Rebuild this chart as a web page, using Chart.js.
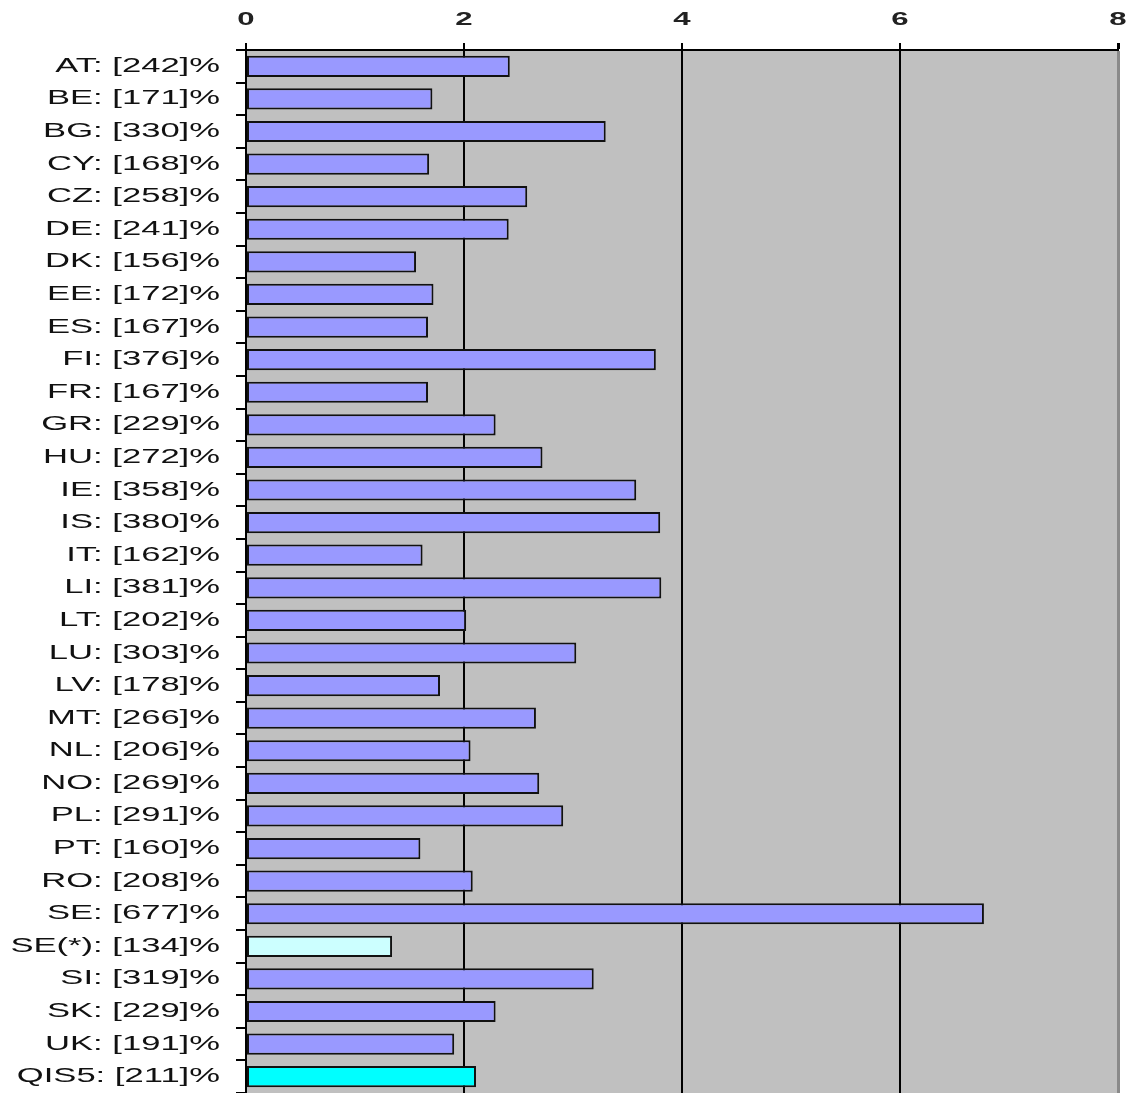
<!DOCTYPE html>
<html>
<head>
<meta charset="utf-8">
<script src="https://cdn.jsdelivr.net/npm/chart.js@4.4.1/dist/chart.umd.min.js"></script>
<style>
html,body{margin:0;padding:0;background:#fff;}
canvas{display:block;}
</style>
</head>
<body>
<canvas id="c" width="1129" height="1093"></canvas>
<script>
// ---- data ----
const countries = ["AT","BE","BG","CY","CZ","DE","DK","EE","ES","FI","FR","GR","HU","IE","IS","IT","LI","LT","LU","LV","MT","NL","NO","PL","PT","RO","SE","SE(*)","SI","SK","UK","QIS5"];
const percents  = [242,171,330,168,258,241,156,172,167,376,167,229,272,358,380,162,381,202,303,178,266,206,269,291,160,208,677,134,319,229,191,211];
const xTicks = [0,2,4,6,8];

const labels = countries.map((c,i)=> c + ": [" + percents[i] + "]%");
const values = percents.map(p => p/100);

// Reference text is horizontally stretched; draw text with the same stretch
const SX = 1.73;
const canvas = document.getElementById('c');
const ctx = canvas.getContext('2d');
const origFill = ctx.fillText.bind(ctx);
ctx.fillText = function(t, x, y, mw){
  this.save();
  this.translate(x, y);
  this.scale(SX, 1);
  if (mw === undefined || mw === null) origFill(t, 0, 0);
  else origFill(t, 0, 0, mw / SX);
  this.restore();
};

const plotBg = {
  id: 'plotBg',
  beforeDraw(chart){
    const a = chart.chartArea, c = chart.ctx;
    c.save();
    c.fillStyle = '#c0c0c0';
    c.fillRect(a.left, a.top, a.right - a.left, a.bottom - a.top);
    c.restore();
  }
};

function barColor(ctxv){
  const c = countries[ctxv.dataIndex];
  if (c === 'SE(*)') return '#ccffff';
  if (c === 'QIS5') return '#00ffff';
  return '#9999ff';
}

new Chart(canvas, {
  type: 'bar',
  data: {
    labels: labels,
    datasets: [{
      data: values,
      backgroundColor: barColor,
      borderColor: '#111',
      borderWidth: 2,
      borderSkipped: false,
      barPercentage: 0.65,
      categoryPercentage: 1.0
    }]
  },
  options: {
    indexAxis: 'y',
    responsive: false,
    animation: false,
    devicePixelRatio: 1,
    layout: { padding: { left: 0, right: 11, top: 0, bottom: 0 } },
    plugins: { legend: { display: false }, tooltip: { enabled: false } },
    scales: {
      x: {
        position: 'top',
        min: 0, max: 8,
        afterBuildTicks(scale){ scale.ticks = xTicks.map(v => ({ value: v })); },
        afterFit(scale){ scale.height = 50; scale.paddingLeft = 0; scale.paddingRight = 0; },
        ticks: {
          color: '#222',
          font: { family: 'Liberation Sans, Arial, sans-serif', size: 18, weight: 'bold' },
          padding: 12,
          maxRotation: 0
        },
        grid: {
          color: (c) => (c.tick && c.tick.value === 8) ? '#8a8a8a' : '#000',
          lineWidth: (c) => (c.tick && c.tick.value === 8) ? 3 : 2,
          tickColor: '#000',
          tickLength: 7,
          drawOnChartArea: true
        },
        border: { display: true, color: '#000', width: 2 }
      },
      y: {
        afterFit(scale){ scale.width = 246; scale.paddingTop = 0; scale.paddingBottom = 0; },
        ticks: {
          color: '#111',
          font: { family: 'Liberation Sans, Arial, sans-serif', size: 20 },
          padding: 16,
          autoSkip: false
        },
        grid: {
          offset: true,
          drawOnChartArea: false,
          color: '#000',
          tickColor: '#000',
          tickLength: 10,
          lineWidth: 2
        },
        border: { display: true, color: '#000', width: 2 }
      }
    }
  },
  plugins: [plotBg]
});
</script>
</body>
</html>
